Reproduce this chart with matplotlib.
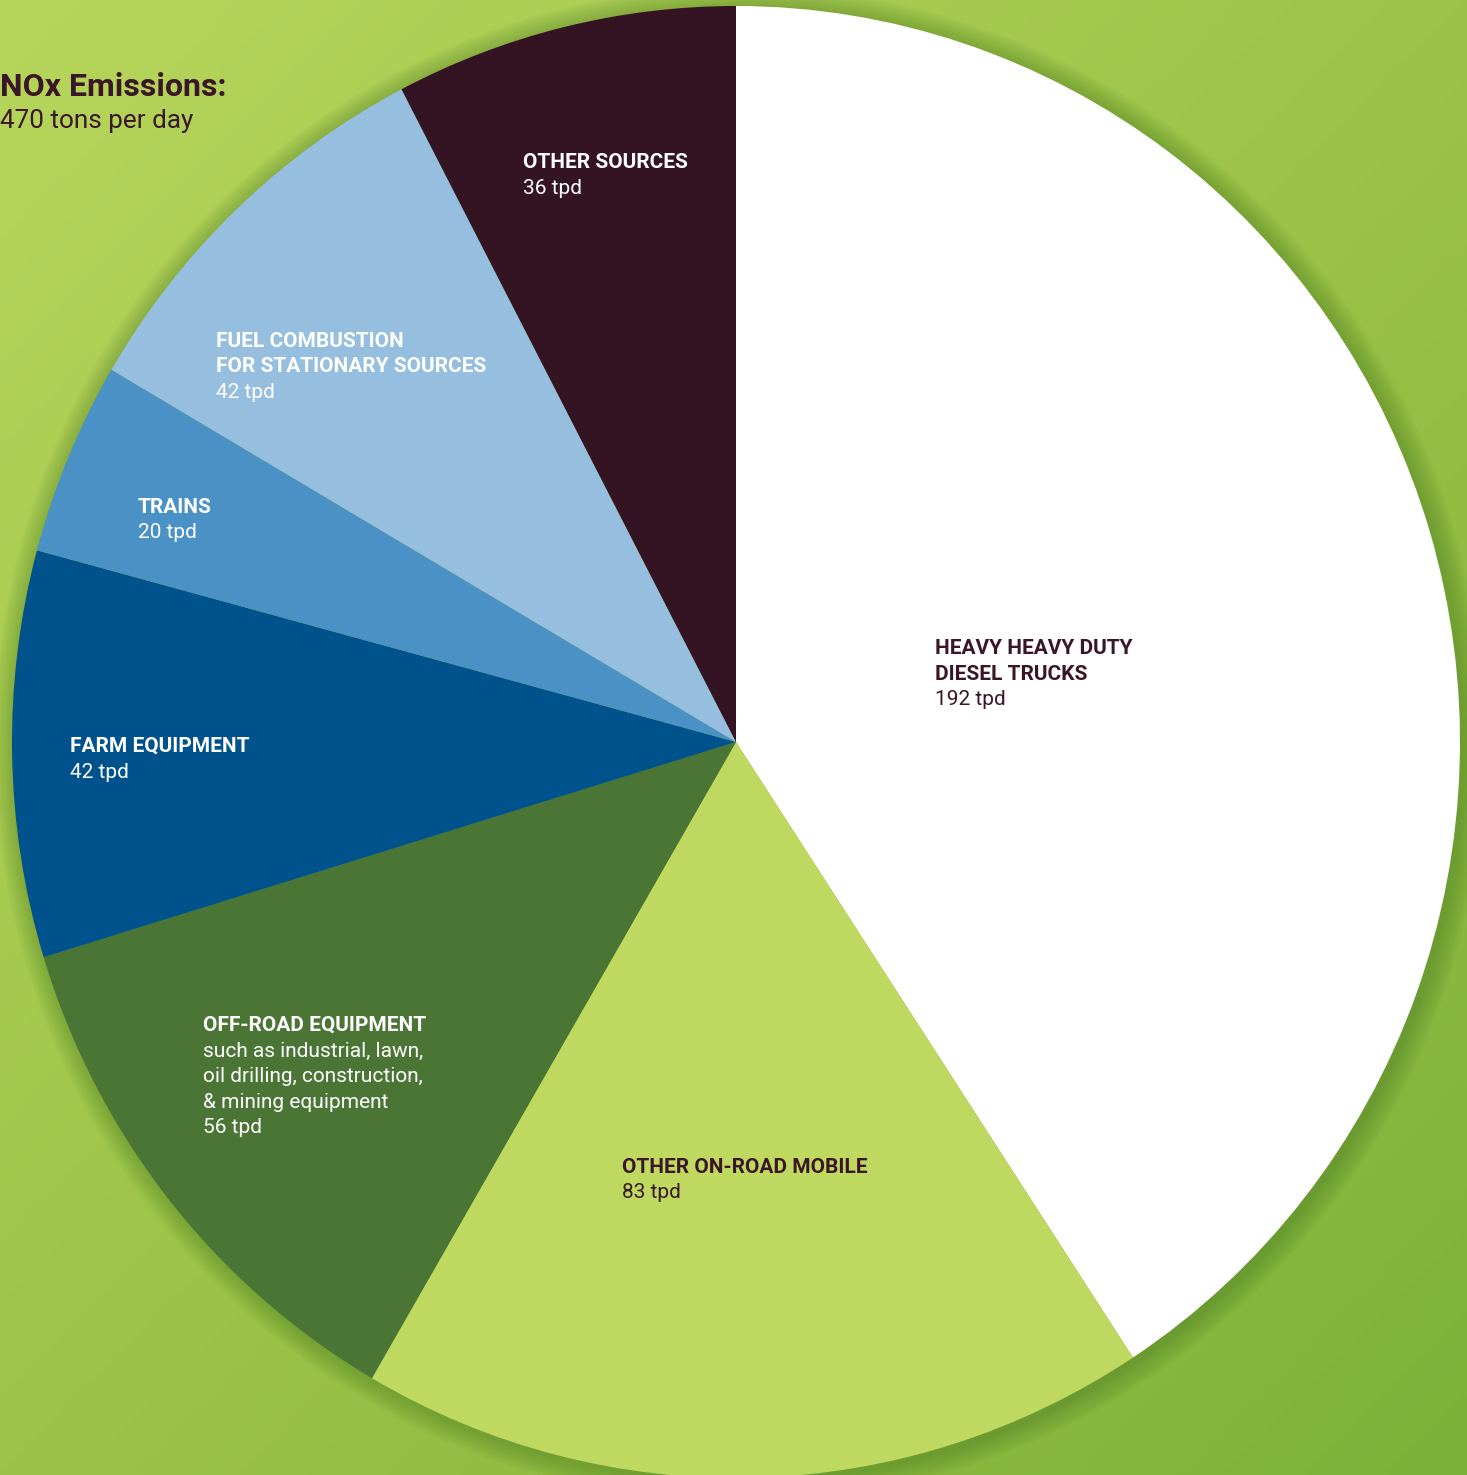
import matplotlib.pyplot as plt
import numpy as np
from matplotlib.colors import LinearSegmentedColormap
from matplotlib.patches import Circle

# data
sources = ["HEAVY HEAVY DUTY\nDIESEL TRUCKS", "OTHER ON-ROAD MOBILE",
           "OFF-ROAD EQUIPMENT", "FARM EQUIPMENT", "TRAINS",
           "FUEL COMBUSTION\nFOR STATIONARY SOURCES", "OTHER SOURCES"]
tpd = [192, 83, 56, 42, 20, 42, 36]
notes = ["", "", "such as industrial, lawn,\noil drilling, construction,\n& mining equipment", "", "", "", ""]
colors = ["#ffffff", "#bfd960", "#4a7535", "#00528c", "#4a91c5", "#95bedf", "#341323"]
text_colors = ["#3a1626", "#3a1626", "white", "white", "white", "white", "white"]
# label anchor (top-left, pixel coords from top)
label_pos = [(935, 639), (622, 1158), (203, 1016), (70, 737), (138, 498), (216, 332), (523, 153)]

W, H = 1467, 1475
fig = plt.figure(figsize=(W / 100, H / 100), dpi=100)

# background axes in pixel coords
bg = fig.add_axes([0, 0, 1, 1])
bg.set_xlim(0, W)
bg.set_ylim(H, 0)
bg.axis("off")
cmap = LinearSegmentedColormap.from_list("bg", ["#b6d55b", "#9cc448", "#7db139"])
yy, xx = np.mgrid[0:1:200j, 0:1:200j]
grad = (xx + yy) / 2
bg.imshow(grad, cmap=cmap, extent=[0, W, H, 0], aspect="auto", zorder=0)

# pie axes: unit circle mapped onto the pie's pixel box
cx, cy, rx, ry = 736, 742, 724, 736
ax = fig.add_axes([0, 0, 1, 1])
ax.patch.set_alpha(0)
for i in range(12):
    ax.add_patch(Circle((0.005, -0.004), 1.03 - i * 0.0025, color="#4a7a22",
                        alpha=0.04, lw=0, zorder=1))
ax.pie(tpd, colors=colors, startangle=90, counterclock=False,
       radius=1, frame=True, wedgeprops=dict(linewidth=0, zorder=2))
ax.set_xlim(-cx / rx, (W - cx) / rx)
ax.set_ylim(-(H - cy) / ry, cy / ry)
ax.set_aspect("auto")
ax.axis("off")

# text layer on top, pixel coords
tx = fig.add_axes([0, 0, 1, 1])
tx.patch.set_alpha(0)
tx.set_xlim(0, W)
tx.set_ylim(H, 0)
tx.axis("off")

fam = ["Roboto", "DejaVu Sans"]
step = 25.5
for name, val, note, tc, (x, y) in zip(sources, tpd, notes, text_colors, label_pos):
    lines = [(l, "bold") for l in name.split("\n")]
    if note:
        lines += [(l, "normal") for l in note.split("\n")]
    lines.append((f"{val} tpd", "normal"))
    for k, (txt, fw) in enumerate(lines):
        tx.text(x, y + k * step, txt, ha="left", va="top", fontsize=15,
                fontweight=fw, color=tc, family=fam)

tx.text(0, 72, "NOx Emissions:", ha="left", va="top", fontsize=23,
        fontweight="bold", color="#3a1626", family=fam)
tx.text(0, 109, "470 tons per day", ha="left", va="top", fontsize=18.8,
        color="#3a1626", family=fam)

fig.savefig("out.png", dpi=100)
